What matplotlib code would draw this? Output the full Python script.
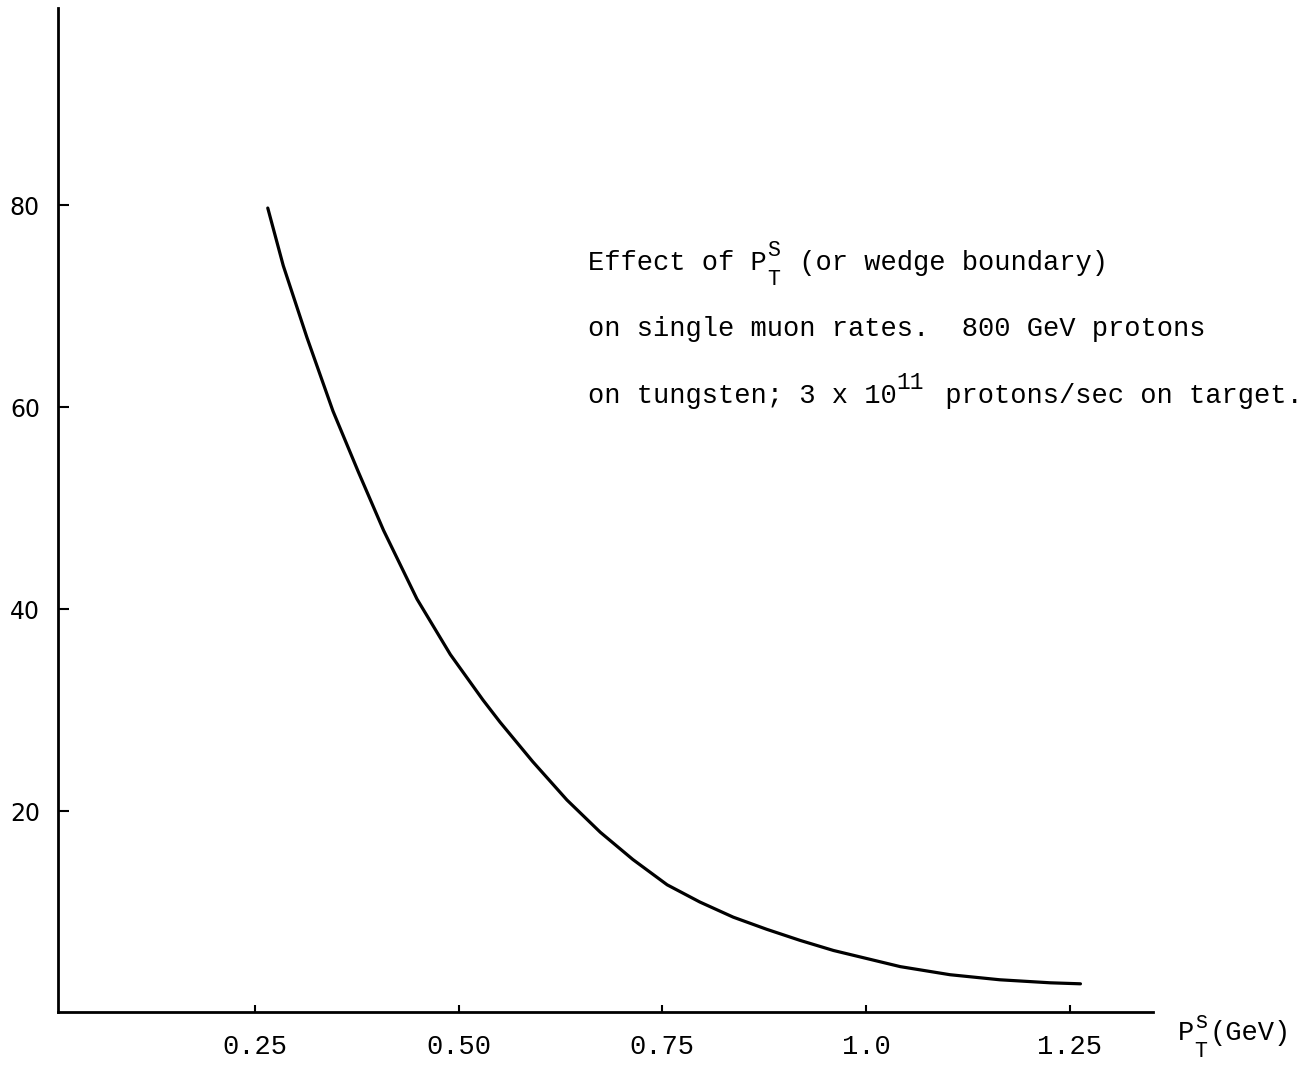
import numpy as np
import matplotlib.pyplot as plt

plt.rcParams['font.family'] = 'Liberation Mono'

# curve: P_T^s (GeV) vs single muon rate
pt = [0.266, 0.285, 0.314, 0.346, 0.377, 0.408, 0.449, 0.490, 0.530, 0.551,
      0.591, 0.633, 0.674, 0.714, 0.756, 0.796, 0.837, 0.878, 0.919, 0.960,
      1.042, 1.103, 1.164, 1.226, 1.263]
rate = [79.7, 74.0, 66.9, 59.6, 53.6, 47.8, 41.0, 35.5, 31.0, 28.8,
        24.9, 21.1, 17.9, 15.2, 12.7, 11.0, 9.5, 8.3, 7.2, 6.2,
        4.6, 3.8, 3.3, 3.0, 2.9]

xticks = [0.25, 0.50, 0.75, 1.0, 1.25]
xlabels = ['0.25', '0.50', '0.75', '1.0', '1.25']
yticks = [20, 40, 60, 80]

FS = 19.5
CW = 0.6 * FS  # advance of one monospace character, in points

fig = plt.figure(figsize=(13.08, 10.71), dpi=100)
ax = fig.add_axes([0.0443, 0.055, 0.8372, 0.9375])

ax.plot(pt, rate, color='black', lw=2.3, solid_joinstyle='round', solid_capstyle='round')

ax.set_xlim(0.0086, 1.352)
ax.set_ylim(0.1, 99.5)
ax.spines['top'].set_visible(False)
ax.spines['right'].set_visible(False)
ax.spines['left'].set_linewidth(2)
ax.spines['bottom'].set_linewidth(2)

ax.set_xticks(xticks)
ax.set_xticklabels(xlabels)
ax.set_yticks(yticks)
ax.tick_params(axis='x', direction='in', length=5, width=1.5, pad=16, labelsize=FS)
ax.tick_params(axis='y', direction='in', length=8, width=1.5, pad=13, labelsize=17)
for lab in ax.get_yticklabels():
    lab.set_family('DejaVu Sans')


def piece(x, y, s, dx, dy=0, size=FS):
    # typewriter pieces placed by character offsets from a data anchor
    ax.annotate(s, xy=(x, y), xycoords='data', xytext=(dx, dy),
                textcoords='offset points', fontsize=size, va='baseline',
                ha='left', annotation_clip=False)


x0 = 0.659
piece(x0, 73.6, 'Effect of P', 0)
piece(x0, 73.6, 'S', 11 * CW, 0.5 * FS, 0.8 * FS)
piece(x0, 73.6, 'T', 11 * CW, -0.55 * FS, 0.8 * FS)
piece(x0, 73.6, ' (or wedge boundary)', 12 * CW)

piece(x0, 67.0, 'on single muon rates.  800 GeV protons', 0)

piece(x0, 60.4, 'on tungsten; 3 x 10', 0)
piece(x0, 60.4, '11', 19 * CW, 0.5 * FS, 0.85 * FS)
piece(x0, 60.4, ' protons/sec on target.', 21 * CW)

# axis title at the right end of the x axis
xa, ya = 1.383, -2.7
piece(xa, ya, 'P', 0)
piece(xa, ya, 's', CW, 0.45 * FS, 0.85 * FS)
piece(xa, ya, 'T', CW, -0.6 * FS, 0.8 * FS)
piece(xa, ya, '(GeV)', 1.9 * CW)

fig.savefig('out.png', dpi=100)
